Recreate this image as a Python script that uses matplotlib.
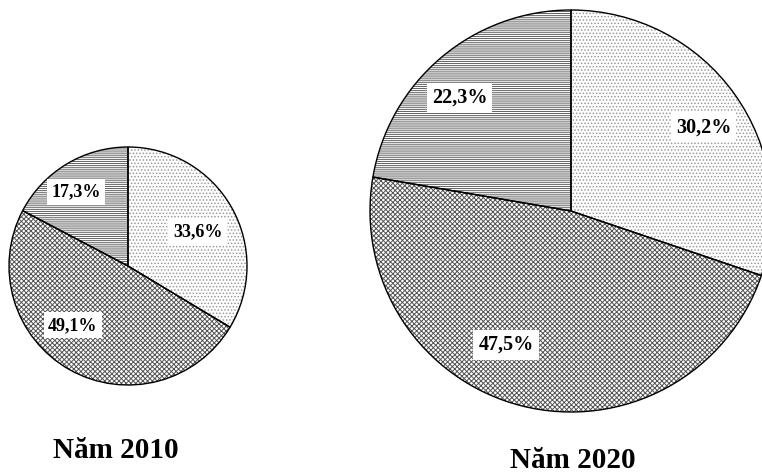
import matplotlib.pyplot as plt
import numpy as np

plt.rcParams["font.family"] = ["Liberation Serif", "DejaVu Serif"]
plt.rcParams["hatch.linewidth"] = 0.7

# data
years = ["Năm 2010", "Năm 2020"]
shares_2010 = [33.6, 49.1, 17.3]
shares_2020 = [30.2, 47.5, 22.3]
labels_2010 = ["33,6%", "49,1%", "17,3%"]
labels_2020 = ["30,2%", "47,5%", "22,3%"]

hatches = [".....", "xxxxxxx", "--------"]
hatch_cols = ["#9a9a9a", "#555555", "#606060"]

W, H = 762, 476
fig = plt.figure(figsize=(W / 100, H / 100), dpi=100)
ax = fig.add_axes([0, 0, 1, 1])


def draw_pie(values, labels, center, radius, label_pos, fsize, title, title_xy):
    # hatched fill first, then black outline on top
    wedges, _ = ax.pie(values, startangle=90, counterclock=False,
                       center=center, radius=radius, frame=True,
                       wedgeprops=dict(linewidth=0, facecolor="white"))
    for w, h, c in zip(wedges, hatches, hatch_cols):
        w.set_hatch(h)
        w.set_edgecolor(c)
    wedges2, _ = ax.pie(values, startangle=90, counterclock=False,
                        center=center, radius=radius, frame=True,
                        wedgeprops=dict(linewidth=1.0, edgecolor="black",
                                        facecolor="none"))
    for w, lab, (ang_off, fr) in zip(wedges2, labels, label_pos):
        ang = np.deg2rad((w.theta1 + w.theta2) / 2 + ang_off)
        x = center[0] + fr * radius * np.cos(ang)
        y = center[1] + fr * radius * np.sin(ang)
        ax.text(x, y, lab, ha="center", va="center", fontsize=fsize,
                fontweight="bold",
                bbox=dict(boxstyle="square,pad=0.25", fc="white", ec="none"))
    ax.text(title_xy[0], title_xy[1], title, ha="center", va="center",
            fontsize=21, fontweight="bold")


draw_pie(shares_2010, labels_2010, (128, H - 266), 119,
         [(-3.6, 0.65), (-13.6, 0.68), (4, 0.76)], 13, years[0], (116, H - 450))
draw_pie(shares_2020, labels_2020, (571, H - 211), 201,
         [(-3.4, 0.78), (-11.7, 0.74), (4.4, 0.79)], 14.5, years[1], (573, H - 461))

ax.set_xlim(0, W)
ax.set_ylim(0, H)
ax.set_aspect("equal")
ax.axis("off")

fig.savefig("out.png", dpi=100)
